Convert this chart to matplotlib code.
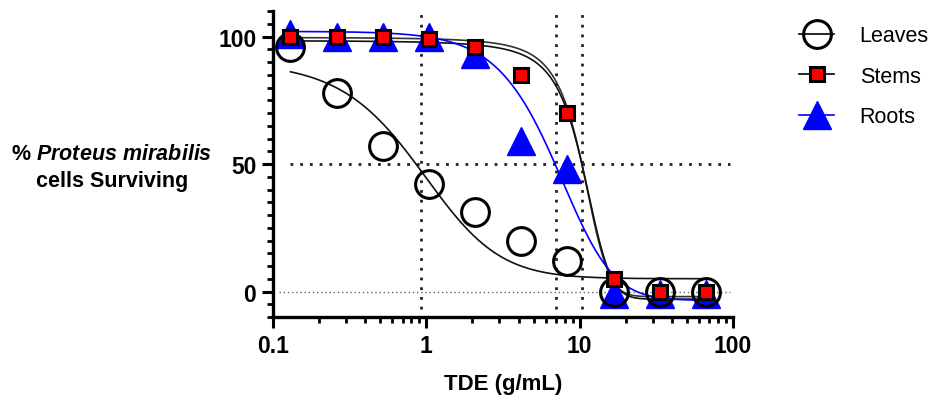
import numpy as np
import matplotlib.pyplot as plt
from matplotlib.lines import Line2D
from matplotlib.ticker import FixedLocator, MultipleLocator, LogLocator, NullFormatter, FuncFormatter

plt.rcParams['font.family'] = ['Liberation Sans', 'DejaVu Sans']
plt.rcParams['mathtext.fontset'] = 'custom'
plt.rcParams['mathtext.it'] = 'Liberation Sans:italic:bold'
plt.rcParams['mathtext.rm'] = 'Liberation Sans:bold'

# TDE concentration (g/mL)
conc = [0.13, 0.26, 0.52, 1.04, 2.08, 4.17, 8.33, 16.7, 33.3, 66.7]
# % cells surviving
leaves = [96, 78, 57, 42, 31, 20, 12, 0, 0, 0]
stems = [100, 100, 100, 99, 96, 85, 70, 5, 0, 0]
roots = [101, 100, 100, 100, 93, 59, 48, -1, -1, -1]

# fitted curves
# asymmetric logistic: top, bottom, x-scale, slope, asymmetry
leaves_fit = [90, 5, 1.31, 1.5, 1.5]
roots_fit = [102, -3.5, 11.8, 1.9, 2.2]
# Boltzmann: top, bottom, midpoint, width
stems_fit_a = [99.5, -3, 10.5, 2.35]
stems_fit_b = [100.5, -2, 10.4, 2.2]

ic50_lines = [0.92, 6.98, 10.3]


def logistic5(x, p):
    top, bottom, c, h, s = p
    return bottom + (top - bottom) / (1 + (x / c) ** h) ** s


def boltzmann(x, p):
    top, bottom, mid, w = p
    return bottom + (top - bottom) / (1 + np.exp((x - mid) / w))


fig = plt.figure(figsize=(9.36, 4.06), dpi=100)
ax = fig.add_axes([273 / 936, 1 - 318 / 406, 460 / 936, 306 / 406])

xs = np.logspace(np.log10(conc[0]), np.log10(conc[-1]), 400)

# reference lines
ax.plot([0.11, 95], [0, 0], color='#666666', lw=1, ls=(0, (1, 2)), zorder=1)
ax.plot([0.13, 95], [50, 50], color='#222222', lw=2, ls=(0, (1, 2.5)), zorder=1)
for v in ic50_lines:
    ax.plot([v, v], [-7, 110], color='#222222', lw=2, ls=(0, (1, 2.5)), zorder=1)

# fit curves
ax.plot(xs, boltzmann(xs, stems_fit_b), color='#333333', lw=1.2, zorder=2)
ax.plot(xs, boltzmann(xs, stems_fit_a), color='#111111', lw=1.2, zorder=2)
ax.plot(xs, logistic5(xs, leaves_fit), color='#111111', lw=1.2, zorder=2)
ax.plot(xs, logistic5(xs, roots_fit), color='#0000ff', lw=1.2, zorder=2)

# data points
ax.plot(conc, roots, ls='none', marker='^', ms=20, color='#0000ff', mec='#0000ff', zorder=3, clip_on=False)
ax.plot(conc, leaves, ls='none', marker='o', ms=20, mfc='none', mec='black', mew=2.2, zorder=4, clip_on=False)
ax.plot(conc, stems, ls='none', marker='s', ms=10, mfc='#ff0000', mec='black', mew=2.2, zorder=5, clip_on=False)

ax.set_xscale('log')
ax.set_xlim(0.1, 100)
ax.set_ylim(-10, 110)
ax.xaxis.set_major_locator(FixedLocator([0.1, 1, 10, 100]))
ax.xaxis.set_major_formatter(FuncFormatter(lambda v, pos: '%g' % v))
ax.xaxis.set_minor_locator(LogLocator(base=10, subs=np.arange(2, 10)))
ax.xaxis.set_minor_formatter(NullFormatter())
ax.yaxis.set_major_locator(FixedLocator([0, 50, 100]))
ax.yaxis.set_minor_locator(MultipleLocator(5))

for s in ['top', 'right']:
    ax.spines[s].set_visible(False)
for s in ['left', 'bottom']:
    ax.spines[s].set_linewidth(2.4)
ax.tick_params(which='major', length=8, width=2.2, labelsize=16.5, pad=4)
ax.tick_params(which='minor', length=4.5, width=2)
for lab in ax.get_xticklabels() + ax.get_yticklabels():
    lab.set_fontweight('bold')

ax.set_xlabel('TDE (g/mL)', fontsize=16, fontweight='bold', labelpad=12)

fig.text(112 / 936, 1 - 155 / 406, r'% $Proteus\ mirabilis$', ha='center', va='center',
         fontsize=15.5, fontweight='bold')
fig.text(112 / 936, 1 - 182 / 406, 'cells Surviving', ha='center', va='center',
         fontsize=15.5, fontweight='bold')

handles = [
    Line2D([], [], color='black', lw=1.2, marker='o', ms=20, mfc='none', mec='black', mew=2.2),
    Line2D([], [], color='black', lw=1.2, marker='s', ms=10, mfc='#ff0000', mec='black', mew=2.2),
    Line2D([], [], color='#0000ff', lw=1.2, marker='^', ms=20, mfc='#0000ff', mec='#0000ff'),
]
fig.legend(handles, ['Leaves', 'Stems', 'Roots'], loc='upper left',
           bbox_to_anchor=(780 / 936, 1 - 7 / 406), frameon=False, fontsize=15.5,
           handlelength=1.6, handletextpad=1.2, labelspacing=0.9)

fig.savefig('out.png', dpi=100)
